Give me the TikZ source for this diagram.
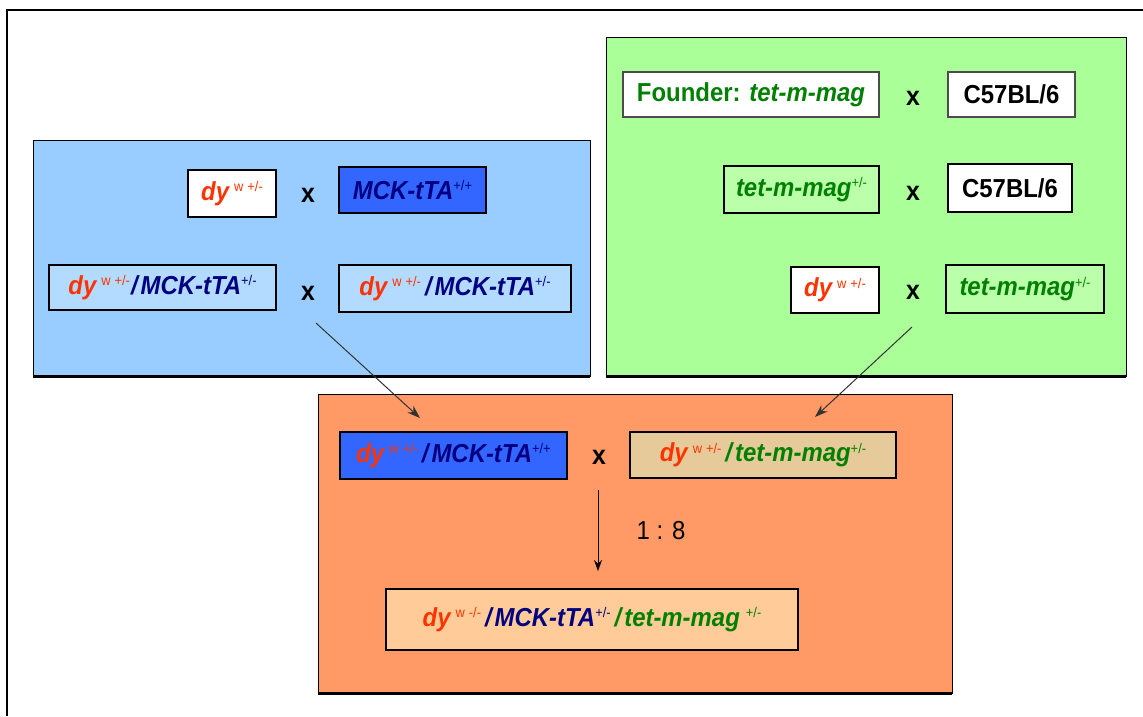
\documentclass[tikz,border=0pt]{standalone}
\usepackage{fontspec}
\setmainfont{Liberation Sans}
\newfontfamily\genefont{Liberation Sans}[FakeStretch=0.92]
\usetikzlibrary{arrows.meta}

\definecolor{dyred}{HTML}{FF3300}
\definecolor{mcknavy}{HTML}{000080}
\definecolor{tetgreen}{HTML}{008000}
\definecolor{bluepanel}{HTML}{99CCFF}
\definecolor{greenpanel}{HTML}{AAFF99}
\definecolor{orangepanel}{HTML}{FF9966}
\definecolor{mckfill}{HTML}{3366FF}
\definecolor{paleblue}{HTML}{B3DAFF}
\definecolor{palegreen}{HTML}{BBFFAA}
\definecolor{tanfill}{HTML}{E6CA99}
\definecolor{peachfill}{HTML}{FFCC99}

% genotype pieces
\newcommand{\gsup}[2]{\raisebox{8.5pt}{\fontsize{14}{14}\selectfont\mdseries\upshape\color{#1}#2}}
\newcommand{\dyw}[1]{\textcolor{dyred}{dy}\hspace{5pt}\gsup{dyred}{w\hspace{4pt}#1}}
\newcommand{\mck}[1]{\textcolor{mcknavy}{MCK-tTA}\gsup{mcknavy}{#1}}
\newcommand{\tet}[1]{\textcolor{tetgreen}{tet-m-mag}\gsup{tetgreen}{#1}}
\newcommand{\sep}[1]{\hspace{4pt}\textcolor{#1}{/}\hspace{3pt}}

\tikzset{
  gene/.style={font=\genefont\fontsize{26}{30}\selectfont\bfseries\itshape},
  cell/.style={draw=black, line width=2pt, inner sep=0pt, gene},
  cross/.style={font=\genefont\fontsize{27}{30}\selectfont\bfseries, inner sep=0pt},
  panel/.style={draw=black, line width=1pt},
  feed/.style={-{Stealth[length=13pt,width=9pt]}, line width=1pt, draw=black!80},
}

\begin{document}
\begin{tikzpicture}[x=1pt, y=-1pt]
\useasboundingbox (0,0) rectangle (1143,716);

% outer frame
\draw[line width=2pt] (1143,10) -- (7,10) -- (7,716);

% panels
\filldraw[panel, fill=bluepanel] (33,140) rectangle (590,376);
\draw[line width=3pt] (33,376) -- (590,376);
\filldraw[panel, fill=greenpanel] (606,37) rectangle (1126,376);
\draw[line width=3pt] (606,376) -- (1126,376);
\filldraw[panel, fill=orangepanel] (318,394) rectangle (952,693);
\draw[line width=3pt] (318,693) -- (952,693);

% connectors between panels
\coordinate (bsrc) at (316,323);
\coordinate (btip) at (420,418);
\coordinate (gsrc) at (912,327);
\coordinate (gtip) at (815,417);
\draw[feed] (bsrc) -- (btip);
\draw[feed] (gsrc) -- (gtip);

% blue panel: dy x MCK-tTA
\node[cell, fill=white, minimum width=88, minimum height=47] (b1) at (232,193.5) {\dyw{+/-}};
\node[cross] (bx1) at (308,195) {x};
\node[cell, fill=mckfill, minimum width=147, minimum height=46] (b2) at (412.5,190) {\mck{+/+}};
\node[cell, fill=paleblue, minimum width=227, minimum height=45] (b3) at (162.5,287.5) {\dyw{+/-}\hspace{1pt}\textcolor{mcknavy}{/}\hspace{3pt}\mck{+/-}};
\node[cross] (bx2) at (308,293) {x};
\node[cell, fill=paleblue, minimum width=232, minimum height=47] (b4) at (455,288.5) {\dyw{+/-}\sep{mcknavy}\mck{+/-}};

% green panel: tet-m-mag line
\node[cell, draw=black!70, fill=white, minimum width=256, minimum height=45] (g1) at (751,94.5)
  {\textcolor{tetgreen}{\upshape Founder: }\textcolor{tetgreen}{tet-m-mag}};
\node[cross] (gx1) at (913,98) {x};
\node[cell, draw=black!70, fill=white, minimum width=127, minimum height=45] (g2) at (1011.5,94.5) {\upshape C57BL/6};
\node[cell, fill=palegreen, minimum width=155, minimum height=47] (g3) at (801.5,189.5) {\tet{+/-}};
\node[cross] (gx2) at (913,193) {x};
\node[cell, fill=white, minimum width=124, minimum height=48] (g4) at (1010,188) {\upshape C57BL/6};
\node[cell, fill=white, minimum width=88, minimum height=46] (g5) at (835,290) {\dyw{+/-}};
\node[cross] (gx3) at (913,292) {x};
\node[cell, fill=palegreen, minimum width=158, minimum height=48] (g6) at (1025,289) {\tet{+/-}};

% orange panel: final cross
\node[cell, fill=mckfill, minimum width=227, minimum height=47] (o1) at (453.5,455.5) {\dyw{+/-}\sep{mcknavy}\mck{+/+}};
\node[cross] (ox) at (599,457) {x};
\node[cell, fill=tanfill, minimum width=266, minimum height=46] (o2) at (763,455) {\dyw{+/-}\sep{tetgreen}\tet{+/-}};
\node[cell, fill=peachfill, minimum width=412, minimum height=61] (o3) at (592,619.5)
  {\dyw{-/-}\sep{mcknavy}\mck{+/-}\sep{tetgreen}\tet{\hspace{6pt}+/-}};
\coordinate (osrc) at (598,490);
\coordinate (otip) at (598,571);
\draw[-{Stealth[length=11pt,width=8pt]}, line width=1pt] (osrc) -- (otip);
\node[font=\genefont\fontsize{26}{30}\selectfont, inner sep=0pt] (ratio) at (661,531) {1 : 8};
\end{tikzpicture}
\end{document}
